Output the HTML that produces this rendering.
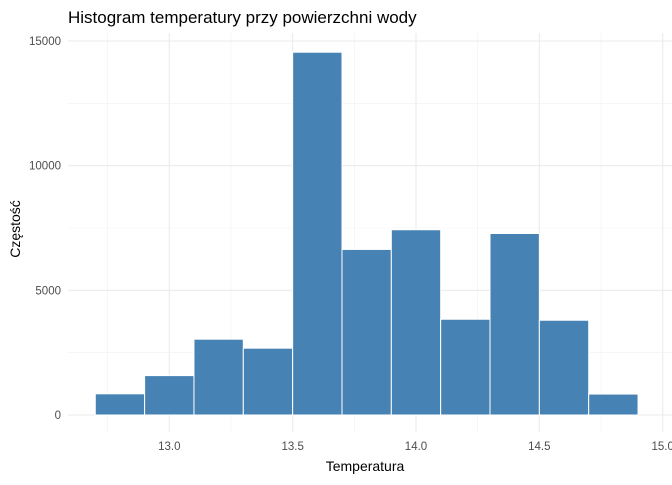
<!DOCTYPE html>
<html><head><meta charset="utf-8"><style>
body{margin:0;background:#fff;font-family:"Liberation Sans",sans-serif}
</style></head><body>
<svg id="chart" width="672" height="480" xmlns="http://www.w3.org/2000/svg">
<text x="68" y="23" font-size="17" fill="#000">Histogram temperatury przy powierzchni wody</text>
<g id="grid"></g><g id="bars"></g><g id="labels"></g>
<text x="365" y="471" font-size="14" text-anchor="middle" fill="#000">Temperatura</text>
<text transform="translate(20,229) rotate(-90)" font-size="14" text-anchor="middle" fill="#000">Częstość</text>
</svg>
<script>
const binStarts=[12.7,12.9,13.1,13.3,13.5,13.7,13.9,14.1,14.3,14.5,14.7];
const counts=[850,1580,3040,2680,14550,6640,7430,3840,7280,3800,840];
const xTicks=[13.0,13.5,14.0,14.5,15.0];
const xTickLabels=["13.0","13.5","14.0","14.5","15.0"];
const yTicks=[0,5000,10000,15000];
const yTickLabels=["0","5000","10000","15000"];
const binWidth=0.2;
const NS="http://www.w3.org/2000/svg";
const xs=v=>169.3+(v-13)*246.7;
const ys=v=>415-v*374/15000;
const L=68,R=672,T=33,B=432;
function mk(tag,attrs,parent){const e=document.createElementNS(NS,tag);for(const k in attrs)e.setAttribute(k,attrs[k]);parent.appendChild(e);return e;}
const grid=document.getElementById('grid'),bars=document.getElementById('bars'),labels=document.getElementById('labels');
for(let i=0;i<xTicks.length;i++){
  const x=xs(xTicks[i]);
  const g=mk('line',{x1:x,x2:x,y1:T,y2:B,stroke:'#ebebeb','stroke-width':1.1},grid);
  
  
  const mx=xs(xTicks[i]-0.25);
  const m=mk('line',{x1:mx,x2:mx,y1:T,y2:B,stroke:'#f1f1f1','stroke-width':0.6},grid);
  
  
  const t=mk('text',{x:x,y:450,'font-size':11.5,'text-anchor':'middle',fill:'#4d4d4d'},labels);
  t.textContent=xTickLabels[i];
  
  
}
for(let i=0;i<yTicks.length;i++){
  const y=ys(yTicks[i]);
  const g=mk('line',{x1:L,x2:R,y1:y,y2:y,stroke:'#ebebeb','stroke-width':1.1},grid);
  
  
  if(i<yTicks.length-1){const my=ys(yTicks[i]+2500);
  const m=mk('line',{x1:L,x2:R,y1:my,y2:my,stroke:'#f1f1f1','stroke-width':0.6},grid);
  
  }
  const t=mk('text',{x:61,y:y+4,'font-size':11.5,'text-anchor':'end',fill:'#4d4d4d'},labels);
  t.textContent=yTickLabels[i];
  
  
}
for(let i=0;i<counts.length;i++){
  const x0=xs(binStarts[i]),x1=xs(binStarts[i]+binWidth);
  const r=mk('rect',{x:x0,y:ys(counts[i]),width:x1-x0,height:ys(0)-ys(counts[i]),fill:'#4682b4',stroke:'#fff','stroke-width':1},bars);
  
  
}
</script>
</body></html>
